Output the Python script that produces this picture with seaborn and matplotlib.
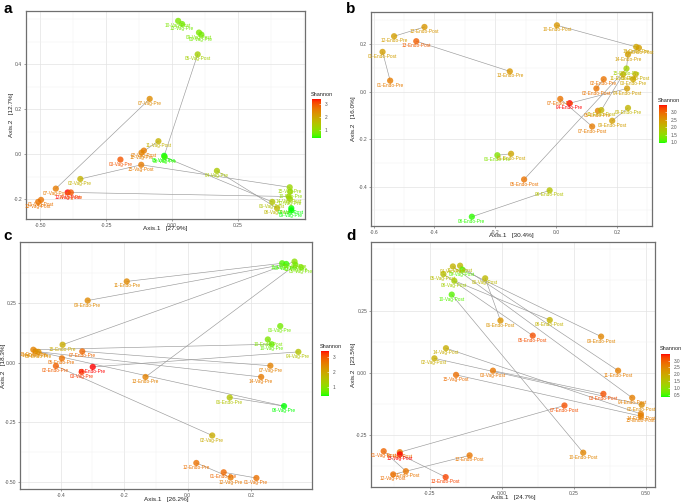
import numpy as np
import pandas as pd
import matplotlib
matplotlib.use("Agg")
import matplotlib.pyplot as plt
import seaborn as sns
from matplotlib.colors import ListedColormap, Normalize
from matplotlib.cm import ScalarMappable
from matplotlib.ticker import AutoMinorLocator

# ---------------- data ----------------
a_labels = ["10-Vag-Post", "13-Vag-Pre", "09-Vag-Post", "06-Vag-Pre", "05-Vag-Post", "07-Vag-Pre",
            "11-Vag-Post", "02-Vag-Post", "11-Vag-Pre", "03-Vag-Pre", "15-Vag-Post", "05-Vag-Pre",
            "08-Vag-Pre", "02-Vag-Pre", "04-Vag-Pre", "07-Vag-Post", "12-Vag-Post", "14-Vag-Pre",
            "01-Vag-Post", "13-Vag-Post", "15-Vag-Pre", "14-Vag-Post", "12-Vag-Pre", "06-Vag-Post",
            "08-Vag-Post", "04-Vag-Post", "09-Vag-Pre", "10-Vag-Pre"]
a_x = [0.023, 0.038, 0.102, 0.111, 0.097, -0.085, -0.052, -0.107, -0.116, -0.196, -0.117, -0.030,
       -0.028, -0.348, 0.170, -0.441, -0.396, -0.384, -0.497, -0.508, 0.446, 0.442, 0.446, 0.380,
       0.398, 0.452, 0.452, 0.448]
a_y = [0.593, 0.579, 0.541, 0.532, 0.444, 0.246, 0.058, 0.016, 0.007, -0.024, -0.047, -0.007,
       -0.013, -0.110, -0.074, -0.153, -0.170, -0.170, -0.203, -0.212, -0.147, -0.188, -0.199, -0.212,
       -0.240, -0.240, -0.250, -0.166]
a_shannon = [0.9, 0.8, 0.9, 0.8, 1.3, 2.4, 1.8, 2.6, 2.5, 3.0, 2.6, 0.4, 0.5, 1.8, 1.4, 2.6, 3.4, 3.0,
             2.7, 2.7, 1.2, 1.3, 1.2, 1.5, 1.7, 0.4, 0.3, 1.1]
a_pairs = [("05-Vag-Post", "05-Vag-Pre"), ("07-Vag-Pre", "07-Vag-Post"), ("02-Vag-Pre", "15-Vag-Post"),
           ("15-Vag-Post", "15-Vag-Pre"), ("08-Vag-Pre", "06-Vag-Post"), ("04-Vag-Pre", "08-Vag-Post"),
           ("14-Vag-Pre", "14-Vag-Post"), ("11-Vag-Post", "11-Vag-Pre")]

b_labels = ["12-Endo-Post", "12-Endo-Pre", "13-Endo-Post", "13-Endo-Pre", "01-Endo-Post", "01-Endo-Pre",
            "10-Endo-Post", "10-Endo-Pre", "14-Endo-Post", "14-Endo-Pre", "15-Endo-Pre", "11-Endo-Pre",
            "03-Endo-Post", "03-Endo-Pre", "02-Endo-Pre", "02-Endo-Post", "04-Endo-Post", "07-Endo-Pre",
            "04-Endo-Pre", "05-Endo-Pre", "11-Endo-Post", "09-Endo-Pre", "09-Endo-Post", "07-Endo-Post",
            "06-Endo-Pre", "06-Endo-Post", "05-Endo-Post", "08-Endo-Post", "08-Endo-Pre"]
b_x = [-0.433, -0.533, -0.460, -0.152, -0.571, -0.546, 0.003, 0.264, 0.273, 0.237, 0.232, 0.221,
       0.262, 0.254, 0.157, 0.133, 0.234, 0.014, 0.045, 0.138, 0.149, 0.237, 0.185, 0.119,
       -0.193, -0.148, -0.105, -0.021, -0.277]
b_y = [0.272, 0.233, 0.212, 0.085, 0.167, 0.046, 0.279, 0.188, 0.184, 0.156, 0.097, 0.073,
       0.073, 0.052, 0.052, 0.013, 0.013, -0.031, -0.049, -0.081, -0.078, -0.069, -0.123, -0.147,
       -0.268, -0.262, -0.370, -0.416, -0.527]
b_shannon = [2.5, 2.4, 3.1, 2.5, 2.4, 2.8, 2.5, 2.3, 2.4, 2.4, 1.7, 2.2, 2.2, 2.3, 2.9, 2.9, 2.4, 2.9,
             3.5, 2.7, 2.1, 2.1, 2.4, 2.8, 1.4, 2.3, 2.9, 1.9, 1.0]
b_pairs = [("12-Endo-Post", "12-Endo-Pre"), ("13-Endo-Post", "13-Endo-Pre"), ("01-Endo-Post", "01-Endo-Pre"),
           ("10-Endo-Post", "10-Endo-Pre"), ("14-Endo-Post", "14-Endo-Pre"), ("14-Endo-Pre", "15-Endo-Pre"),
           ("05-Endo-Post", "15-Endo-Pre"), ("04-Endo-Pre", "04-Endo-Post"), ("07-Endo-Pre", "07-Endo-Post"),
           ("09-Endo-Pre", "09-Endo-Post"), ("06-Endo-Pre", "06-Endo-Post"), ("08-Endo-Post", "08-Endo-Pre"),
           ("11-Endo-Pre", "11-Endo-Post"), ("02-Endo-Pre", "02-Endo-Post"), ("03-Endo-Post", "03-Endo-Pre")]

c_labels = ["11-Vag-Pre", "09-Vag-Pre", "15-Vag-Pre", "13-Vag-Pre", "05-Vag-Pre", "11-Endo-Pre",
            "09-Endo-Pre", "06-Vag-Pre", "10-Endo-Post", "10-Vag-Pre", "04-Vag-Pre", "15-Endo-Pre",
            "07-Endo-Pre", "10-Endo-Pre", "14-Endo-Pre", "08-Endo-Pre", "05-Endo-Pre", "02-Endo-Pre",
            "04-Endo-Pre", "03-Vag-Pre", "07-Vag-Pre", "13-Endo-Pre", "14-Vag-Pre", "06-Endo-Pre",
            "08-Vag-Pre", "02-Vag-Pre", "12-Endo-Pre", "01-Endo-Pre", "12-Vag-Pre", "01-Vag-Pre"]
c_x = [0.297, 0.310, 0.336, 0.339, 0.357, -0.192, -0.315, 0.291, 0.252, 0.264, 0.348, -0.394,
       -0.332, -0.486, -0.479, -0.470, -0.396, -0.415, -0.299, -0.334, 0.260, -0.133, 0.231, 0.132,
       0.303, 0.077, 0.027, 0.113, 0.135, 0.216]
c_y = [0.416, 0.413, 0.423, 0.409, 0.399, 0.340, 0.260, 0.153, 0.097, 0.077, 0.045, 0.075,
       0.047, 0.054, 0.047, 0.045, 0.018, -0.014, -0.018, -0.039, -0.013, -0.060, -0.060, -0.146,
       -0.182, -0.305, -0.420, -0.459, -0.481, -0.483]
c_shannon = [0.6, 0.5, 1.0, 0.8, 0.9, 2.4, 2.4, 0.8, 0.9, 0.7, 1.5, 1.9, 2.8, 2.5, 2.4, 2.3, 2.7, 2.9,
             3.4, 3.2, 2.5, 2.5, 2.6, 1.5, 0.3, 1.9, 2.7, 2.8, 2.6, 2.7]
c_pairs = [("11-Endo-Pre", "11-Vag-Pre"), ("09-Endo-Pre", "09-Vag-Pre"), ("15-Endo-Pre", "15-Vag-Pre"),
           ("13-Endo-Pre", "13-Vag-Pre"), ("10-Endo-Pre", "10-Vag-Pre"), ("07-Endo-Pre", "07-Vag-Pre"),
           ("04-Endo-Pre", "04-Vag-Pre"), ("14-Endo-Pre", "14-Vag-Pre"), ("08-Endo-Pre", "08-Vag-Pre"),
           ("06-Endo-Pre", "08-Vag-Pre"), ("02-Endo-Pre", "02-Vag-Pre"), ("12-Endo-Pre", "12-Vag-Pre"),
           ("01-Endo-Pre", "01-Vag-Pre"), ("10-Endo-Post", "10-Vag-Pre")]

d_labels = ["04-Vag-Post", "11-Vag-Post", "09-Vag-Post", "05-Vag-Post", "08-Vag-Post", "06-Vag-Post",
            "10-Vag-Post", "06-Endo-Post", "08-Endo-Post", "05-Endo-Post", "09-Endo-Post", "14-Vag-Post",
            "02-Vag-Post", "03-Vag-Post", "15-Vag-Post", "11-Endo-Post", "03-Endo-Post", "04-Endo-Post",
            "02-Endo-Post", "14-Endo-Post", "15-Endo-Post", "07-Endo-Post", "10-Endo-Post", "01-Vag-Post",
            "07-Vag-Post", "13-Vag-Post", "12-Endo-Post", "01-Endo-Post", "12-Vag-Post", "13-Endo-Post"]
d_x = [-0.170, -0.145, -0.137, -0.203, -0.165, -0.058, -0.174, -0.005, 0.166, 0.107, 0.344, -0.194,
       -0.234, -0.031, -0.159, 0.403, 0.352, 0.452, 0.485, 0.482, 0.482, 0.217, 0.282, -0.410,
       -0.354, -0.354, -0.112, -0.333, -0.377, -0.195]
d_y = [0.431, 0.434, 0.418, 0.400, 0.373, 0.383, 0.317, 0.212, 0.214, 0.151, 0.147, 0.100,
       0.059, 0.009, -0.008, 0.009, -0.085, -0.101, -0.129, -0.166, -0.175, -0.132, -0.323, -0.317,
       -0.321, -0.330, -0.334, -0.398, -0.411, -0.422]
d_shannon = [1.8, 1.7, 0.6, 1.6, 1.3, 1.7, 0.6, 2.3, 1.8, 3.1, 2.5, 1.9, 1.9, 2.7, 2.8, 2.6, 3.1, 2.6,
             2.4, 2.6, 2.6, 3.1, 2.5, 2.9, 2.7, 3.5, 2.7, 2.7, 2.8, 3.2]
d_pairs = [("04-Vag-Post", "04-Endo-Post"), ("11-Vag-Post", "11-Endo-Post"), ("09-Vag-Post", "09-Endo-Post"),
           ("08-Vag-Post", "08-Endo-Post"), ("05-Vag-Post", "05-Endo-Post"), ("06-Vag-Post", "06-Endo-Post"),
           ("10-Vag-Post", "10-Endo-Post"), ("14-Vag-Post", "14-Endo-Post"), ("02-Vag-Post", "02-Endo-Post"),
           ("03-Vag-Post", "03-Endo-Post"), ("15-Vag-Post", "15-Endo-Post"), ("07-Endo-Post", "07-Vag-Post"),
           ("13-Vag-Post", "13-Endo-Post"), ("12-Vag-Post", "12-Endo-Post"), ("01-Vag-Post", "01-Endo-Post")]

axis_titles = {"a": ("Axis.1   [27.9%]", "Axis.2   [12.7%]"),
               "b": ("Axis.1   [30.4%]", "Axis.2   [16.0%]"),
               "c": ("Axis.1   [26.2%]", "Axis.2   [18.3%]"),
               "d": ("Axis.1   [24.7%]", "Axis.2   [23.5%]")}


# ---------------- green -> red gradient interpolated in Lab (like ggplot) ----------------
_M = np.array([[0.4124564, 0.3575761, 0.1804375],
               [0.2126729, 0.7151522, 0.0721750],
               [0.0193339, 0.1191920, 0.9503041]])
_WHITE = np.array([0.95047, 1.0, 1.08883])


def _srgb_to_lab(rgb):
    rgb = np.asarray(rgb, float)
    lin = np.where(rgb <= 0.04045, rgb / 12.92, ((rgb + 0.055) / 1.055) ** 2.4)
    xyz = _M @ lin / _WHITE
    d = 6 / 29
    f = np.where(xyz > d ** 3, np.cbrt(xyz), xyz / (3 * d * d) + 4 / 29)
    return np.array([116 * f[1] - 16, 500 * (f[0] - f[1]), 200 * (f[1] - f[2])])


def _lab_to_srgb(lab):
    L, a, b = lab
    fy = (L + 16) / 116
    f = np.array([fy + a / 500, fy, fy - b / 200])
    d = 6 / 29
    xyz = np.where(f > d, f ** 3, 3 * d * d * (f - 4 / 29)) * _WHITE
    lin = np.clip(np.linalg.inv(_M) @ xyz, 0, 1)
    return np.clip(np.where(lin <= 0.0031308, 12.92 * lin, 1.055 * lin ** (1 / 2.4) - 0.055), 0, 1)


lab_lo = _srgb_to_lab([0, 1, 0])
lab_hi = _srgb_to_lab([1, 0, 0])
cmap = ListedColormap([_lab_to_srgb(lab_lo + t * (lab_hi - lab_lo)) for t in np.linspace(0, 1, 256)])

# ---------------- figure ----------------
W, H = 684, 504
fig = plt.figure(figsize=(W / 100, H / 100), dpi=100)
fig.patch.set_facecolor("white")


def px_axes(l, t, r, b):
    return fig.add_axes([l / W, 1 - b / H, (r - l) / W, (b - t) / H])


panels = [
    dict(key="a", labels=a_labels, x=a_x, y=a_y, s=a_shannon, pairs=a_pairs,
         box=(26, 11, 305, 219), xlim=(-0.554, 0.504), ylim=(-0.288, 0.637),
         xt=[-0.5, -0.25, 0, 0.25], xtl=["-0.50", "-0.25", "0.00", "0.25"],
         yt=[-0.2, 0, 0.2, 0.4], ytl=["-0.2", "0.0", "0.2", "0.4"], ylx=12.3, xly=228.7,
         norm=(0.41, 3.41), cb=(312, 99, 321, 138), cbt=[1, 2, 3], cbtl=["1", "2", "3"], letter=(3, 2)),
    dict(key="b", labels=b_labels, x=b_x, y=b_y, s=b_shannon, pairs=b_pairs,
         box=(371, 12, 652, 226), xlim=(-0.609, 0.316), ylim=(-0.566, 0.335),
         xt=[-0.6, -0.4, -0.2, 0, 0.2], xtl=["-0.6", "-0.4", "-0.2", "0.0", "0.2"],
         yt=[-0.4, -0.2, 0, 0.2], ytl=["-0.4", "-0.2", "0.0", "0.2"], ylx=354.3, xly=236,
         norm=(0.95, 3.5), cb=(659, 105, 667, 143), cbt=[1, 1.5, 2, 2.5, 3],
         cbtl=["1.0", "1.5", "2.0", "2.5", "3.0"], letter=(346, 2)),
    dict(key="c", labels=c_labels, x=c_x, y=c_y, s=c_shannon, pairs=c_pairs,
         box=(20, 242, 312, 489), xlim=(-0.528, 0.391), ylim=(-0.529, 0.505),
         xt=[-0.4, -0.2, 0, 0.2], xtl=["-0.4", "-0.2", "0.0", "0.2"],
         yt=[-0.5, -0.25, 0, 0.25], ytl=["-0.50", "-0.25", "0.00", "0.25"], ylx=4.5, xly=499,
         norm=(0.4, 3.38), cb=(321, 351, 329, 396), cbt=[1, 2, 3], cbtl=["1", "2", "3"], letter=(3, 229)),
    dict(key="d", labels=d_labels, x=d_x, y=d_y, s=d_shannon, pairs=d_pairs,
         box=(371, 242, 655, 487), xlim=(-0.454, 0.531), ylim=(-0.462, 0.53),
         xt=[-0.25, 0, 0.25, 0.5], xtl=["-0.25", "0.00", "0.25", "0.50"],
         yt=[-0.25, 0, 0.25], ytl=["-0.25", "0.00", "0.25"], ylx=354.3, xly=497,
         norm=(0.38, 3.47), cb=(661, 354, 670, 397), cbt=[0.5, 1, 1.5, 2, 2.5, 3],
         cbtl=["0.5", "1.0", "1.5", "2.0", "2.5", "3.0"], letter=(346, 229)),
]

FONT = "Liberation Sans"
for p in panels:
    l0, t0, r0, b0 = p["box"]
    ax = px_axes(l0, t0, r0, b0)
    df = pd.DataFrame({"label": p["labels"], "x": p["x"], "y": p["y"], "shannon": p["s"]})
    pos = df.set_index("label")[["x", "y"]]
    # connecting lines between paired samples
    for a, b in p["pairs"]:
        ax.plot([pos.loc[a, "x"], pos.loc[b, "x"]], [pos.loc[a, "y"], pos.loc[b, "y"]],
                color="#9a9a9a", lw=0.45, zorder=2)
    norm = Normalize(*p["norm"])
    sns.scatterplot(data=df, x="x", y="y", hue="shannon", palette=cmap, hue_norm=norm,
                    s=20, alpha=0.8, linewidth=0, legend=False, ax=ax, zorder=3)
    for _, r in df.iterrows():
        ax.annotate(r["label"], (r["x"], r["y"]), xytext=(0, -3.3), textcoords="offset points",
                    ha="center", va="center", fontsize=3.4, color=cmap(norm(r["shannon"])),
                    family=FONT, zorder=4)
    ax.set_xlim(*p["xlim"])
    ax.set_ylim(*p["ylim"])
    ax.set_xticks(p["xt"])
    ax.set_xticklabels(p["xtl"])
    ax.set_yticks(p["yt"])
    ax.set_yticklabels(p["ytl"])
    ax.xaxis.set_minor_locator(AutoMinorLocator(2))
    ax.yaxis.set_minor_locator(AutoMinorLocator(2))
    ax.set_facecolor("white")
    ax.grid(True, which="major", color="#e3e3e3", lw=0.5, zorder=0)
    ax.grid(True, which="minor", color="#f1f1f1", lw=0.35, zorder=0)
    ax.set_axisbelow(True)
    for sp in ax.spines.values():
        sp.set_color("#6f6f6f")
        sp.set_linewidth(0.9)
    ax.tick_params(which="major", length=1.6, width=0.4, color="#555555", pad=1.2,
                   labelsize=3.6, labelcolor="#555555")
    ax.tick_params(which="minor", length=0)
    for lab in ax.get_xticklabels() + ax.get_yticklabels():
        lab.set_family(FONT)
    xt, yt = axis_titles[p["key"]]
    ax.set_xlabel(xt, fontsize=4.6, family=FONT, color="#222222")
    ax.set_ylabel(yt, fontsize=4.6, family=FONT, color="#222222")
    ax.yaxis.set_label_coords((p["ylx"] + 2.0 - l0) / (r0 - l0), 0.5)
    ax.xaxis.set_label_coords(0.5, (b0 - (p["xly"] - 2.5)) / (b0 - t0))

    # colourbar
    l, t, r, b = p["cb"]
    cax = px_axes(l, t, r, b)
    cb = fig.colorbar(ScalarMappable(norm=norm, cmap=cmap), cax=cax)
    cb.outline.set_visible(False)
    cb.set_ticks(p["cbt"])
    cb.set_ticklabels(p["cbtl"])
    cax.tick_params(length=1.2, width=0.4, color="white", direction="in", pad=2.5,
                    labelsize=3.4, labelcolor="#555555")
    for lab in cax.get_yticklabels():
        lab.set_family(FONT)
    fig.text((l - 1) / W, 1 - (t - 2.5) / H, "Shannon", fontsize=4.0, family=FONT,
             ha="left", va="bottom", color="#222222")
    # panel letter
    fig.text(p["letter"][0] / W, 1 - p["letter"][1] / H, p["key"], fontsize=11,
             fontweight="bold", family=FONT, ha="left", va="top")

fig.savefig("out.png", dpi=100, facecolor="white")
